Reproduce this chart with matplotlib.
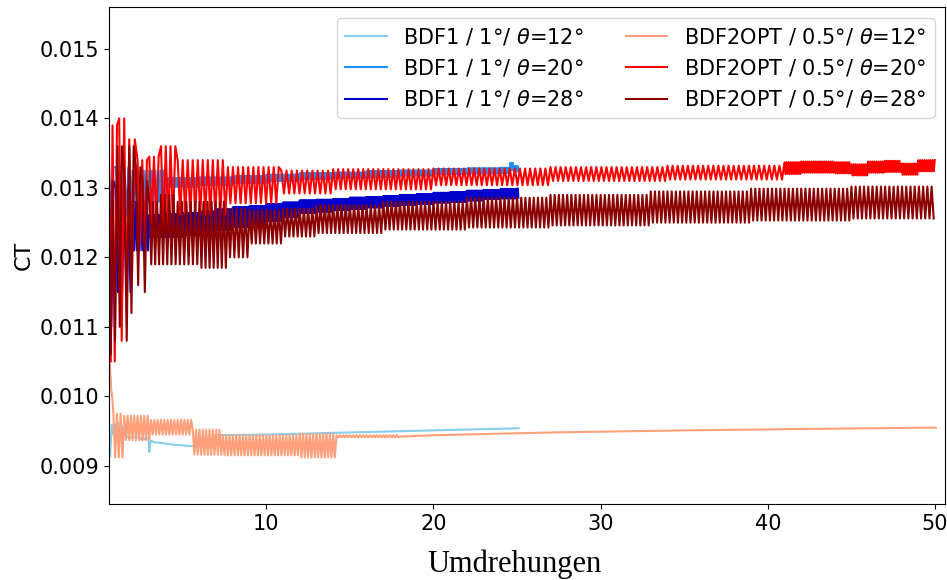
import numpy as np
import matplotlib
matplotlib.use('Agg')
import matplotlib.pyplot as plt

# values (CT over revolutions)
# oscillating series: segment edges, upper / lower turning values per segment,
# oscillation cycles per revolution in each segment

# BDF1 / 1 deg / theta=12 (smooth)
x_b12 = [0.62, 0.66, 0.75, 0.85, 0.95, 1.05, 1.15, 1.25, 1.35, 1.5, 1.8, 2.2, 2.6, 2.95,
         3.0, 3.08, 3.3, 4.0, 4.6, 5.2, 5.7, 6.8, 6.9, 10.0, 15.0, 20.0, 25.1]
y_b12 = [0.00925, 0.00913, 0.00959, 0.00945, 0.00960, 0.00943, 0.00961, 0.00944, 0.00958,
         0.00945, 0.00940, 0.00942, 0.00938, 0.00940, 0.00920, 0.00936, 0.00934, 0.00932,
         0.00930, 0.00929, 0.00928, 0.00928, 0.00944, 0.00945, 0.00948, 0.00951, 0.00954]

# BDF1 / 1 deg / theta=20
k_b20 = [0.59, 1.0, 2.0, 4.0, 6.0, 8.0, 10.0, 12.0, 14.0, 16.0, 18.0, 20.0, 22.0, 24.0,
         24.6, 24.8, 25.1]
hi_b20 = [0.01330, 0.01330, 0.01325, 0.01314, 0.01315, 0.01317, 0.01319, 0.01321, 0.01322,
          0.01324, 0.01325, 0.01327, 0.01328, 0.01329, 0.01336, 0.01331]
lo_b20 = [0.01240, 0.01260, 0.01280, 0.01302, 0.01304, 0.01307, 0.01310, 0.01313, 0.01315,
          0.01316, 0.01318, 0.01320, 0.01321, 0.01322, 0.01326, 0.01324]
c_b20 = [4, 4, 6] + [20] * 13

# BDF1 / 1 deg / theta=28
k_b28 = [0.59, 1.0, 2.0, 3.0, 4.0, 5.0, 6.0, 7.0, 8.0, 9.0, 10.0, 11.0, 12.0, 13.0, 14.0,
         15.0, 16.0, 17.0, 18.0, 19.0, 20.0, 21.0, 22.0, 23.0, 24.0, 25.0, 25.1]
hi_b28 = [0.01310, 0.01300, 0.01280, 0.01261, 0.01262, 0.01264, 0.01266, 0.01269, 0.01272,
          0.01274, 0.01277, 0.01279, 0.01282, 0.01283, 0.01284, 0.01286, 0.01287, 0.01288,
          0.01290, 0.01291, 0.01293, 0.01294, 0.01296, 0.01297, 0.01298, 0.01299]
lo_b28 = [0.01100, 0.01150, 0.01210, 0.01230, 0.01230, 0.01232, 0.01236, 0.01240, 0.01244,
          0.01248, 0.01253, 0.01258, 0.01264, 0.01266, 0.01268, 0.01270, 0.01272, 0.01274,
          0.01276, 0.01277, 0.01279, 0.01280, 0.01282, 0.01284, 0.01285, 0.01286]
c_b28 = [4, 4, 6] + [20] * 23

# BDF2OPT / 0.5 deg / theta=12
x_o12a = [0.59, 0.65, 0.72, 0.78]
y_o12a = [0.01060, 0.01045, 0.01010, 0.01000]
k_o12 = [0.85, 1.5, 3.1, 5.6, 7.4, 12.0, 14.2, 18.0]
hi_o12 = [0.00975, 0.00972, 0.00966, 0.00952, 0.00944, 0.00946, 0.00944]
lo_o12 = [0.00912, 0.00937, 0.00945, 0.00916, 0.00915, 0.00912, 0.00941]
c_o12 = 5
x_o12b = [18.0, 20.0, 27.0, 35.0, 42.0, 50.05]
y_o12b = [0.00942, 0.00944, 0.00948, 0.00951, 0.00953, 0.00955]

# BDF2OPT / 0.5 deg / theta=20
k_r20 = [0.59, 0.8, 1.2, 1.5, 1.8, 2.3, 3.0, 3.7, 4.7, 7.7, 10.9, 14.0, 20.0, 27.0, 34.0,
         41.0, 42.0, 43.0, 44.0, 45.0, 46.0, 47.0, 48.0, 49.0, 50.05]
hi_r20 = [0.01344, 0.01390, 0.01400, 0.01400, 0.01370, 0.01340, 0.01345, 0.01360, 0.01340,
          0.01330, 0.01325, 0.01327, 0.01328, 0.01330, 0.01332, 0.01337, 0.01338, 0.01338,
          0.01337, 0.01334, 0.01338, 0.01339, 0.01335, 0.01340]
lo_r20 = [0.01050, 0.01050, 0.01080, 0.01120, 0.01180, 0.01220, 0.01250, 0.01245, 0.01262,
          0.01278, 0.01292, 0.01298, 0.01304, 0.01310, 0.01312, 0.01320, 0.01322, 0.01322,
          0.01321, 0.01318, 0.01322, 0.01323, 0.01319, 0.01324]
c_r20 = [3.3] * 15 + [8] * 9

# BDF2OPT / 0.5 deg / theta=28
k_r28 = [0.59, 0.8, 1.1, 1.5, 1.8, 2.2, 2.6, 3.0, 3.7, 4.7, 6.0, 7.7, 9.0, 11.0, 13.0, 17.0,
         22.0, 27.0, 33.0, 39.0, 45.0, 50.05]
hi_r28 = [0.01270, 0.01310, 0.01360, 0.01320, 0.01360, 0.01330, 0.01310, 0.01280, 0.01290,
          0.01280, 0.01280, 0.01270, 0.01268, 0.01270, 0.01275, 0.01280, 0.01286, 0.01290,
          0.01295, 0.01299, 0.01302]
lo_r28 = [0.01060, 0.01080, 0.01100, 0.01080, 0.01120, 0.01160, 0.01150, 0.01190, 0.01190,
          0.01190, 0.01185, 0.01200, 0.01220, 0.01230, 0.01235, 0.01240, 0.01243, 0.01246,
          0.01250, 0.01253, 0.01256]
c_r28 = 4

labels = ['BDF1 / 1°/ $\\theta$=12°', 'BDF1 / 1°/ $\\theta$=20°', 'BDF1 / 1°/ $\\theta$=28°',
          'BDF2OPT / 0.5°/ $\\theta$=12°', 'BDF2OPT / 0.5°/ $\\theta$=20°',
          'BDF2OPT / 0.5°/ $\\theta$=28°']
colors = ['skyblue', 'dodgerblue', 'mediumblue', 'lightsalmon', 'red', 'darkred']


def zigzag(knots, hi, lo, cpr):
  # alternate between the upper and lower value of each segment
  xs, ys = [], []
  for i in range(len(hi)):
    c = cpr[i] if isinstance(cpr, list) else cpr
    n = max(2, int(round((knots[i+1] - knots[i]) * c * 2)))
    for j, x in enumerate(np.linspace(knots[i], knots[i+1], n, endpoint=False)):
      xs.append(x)
      ys.append(hi[i] if j % 2 == 0 else lo[i])
  return xs, ys


def plot_ct():
  xb20, yb20 = zigzag(k_b20, hi_b20, lo_b20, c_b20)
  xb28, yb28 = zigzag(k_b28, hi_b28, lo_b28, c_b28)
  xo, yo = zigzag(k_o12, hi_o12, lo_o12, c_o12)
  xo12 = x_o12a + xo + x_o12b
  yo12 = y_o12a + yo + y_o12b
  xr20, yr20 = zigzag(k_r20, hi_r20, lo_r20, c_r20)
  xr28, yr28 = zigzag(k_r28, hi_r28, lo_r28, c_r28)

  series = [(x_b12, y_b12), (xb20, yb20), (xb28, yb28),
            (xo12, yo12), (xr20, yr20), (xr28, yr28)]

  fig = plt.figure(figsize=(9.47, 5.8), dpi=100)
  ax = fig.add_axes([0.1151, 0.131, 0.8828, 0.8564])
  for (xv, yv), lab, col in zip(series, labels, colors):
    ax.plot(xv, yv, label=lab, c=col, lw=1.5)

  ax.set_xlim([0.59, 50.6])
  ax.set_ylim([0.00845, 0.0156])
  ax.set_xticks([10, 20, 30, 40, 50])
  ax.set_yticks([0.009, 0.010, 0.011, 0.012, 0.013, 0.014, 0.015])
  ax.set_yticklabels(['0.009', '0.010', '0.011', '0.012', '0.013', '0.014', '0.015'])
  ax.tick_params(labelsize=15)
  ax.set_xlabel('Umdrehungen', fontsize=22, family='Liberation Serif', x=0.485, labelpad=11)
  ax.set_ylabel('CT', fontsize=16)
  ax.legend(loc='upper right', ncol=2, fontsize=15)
  fig.savefig('out.png', dpi=100)


if __name__ == '__main__':
  plot_ct()
